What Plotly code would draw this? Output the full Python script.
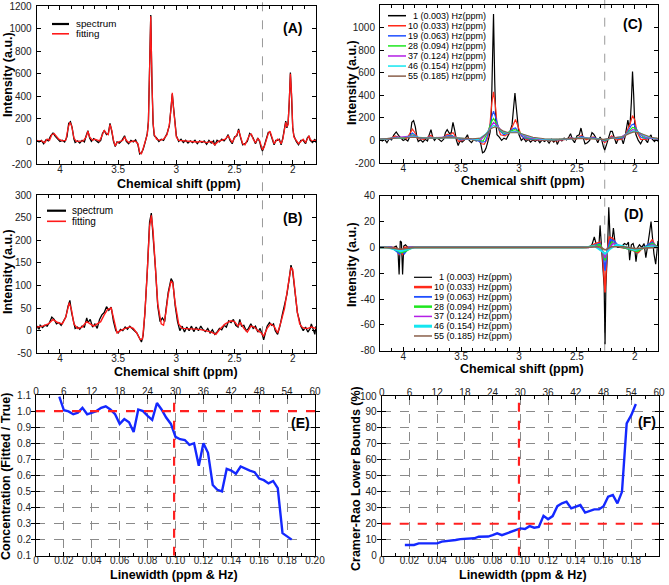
import plotly.graph_objects as go
import numpy as np

W, H = 669, 585
FONT = "Liberation Sans, Arial, Helvetica, sans-serif"

# ---------------- Panel A (spectrum / fitting, 1 Hz) ----------------
A_fit_ppm = [4.20, 4.16, 4.13, 4.11, 4.09, 4.07, 4.05, 4.03, 4.01, 3.98,
             3.95, 3.93, 3.915, 3.90, 3.88, 3.86, 3.83, 3.80, 3.775, 3.76,
             3.745, 3.72, 3.70, 3.68, 3.66, 3.635, 3.62, 3.60, 3.585, 3.57,
             3.555, 3.54, 3.525, 3.51, 3.49, 3.46, 3.445, 3.43, 3.41, 3.39,
             3.37, 3.35, 3.33, 3.315, 3.30, 3.285, 3.27, 3.25, 3.24, 3.23,
             3.22, 3.21, 3.20, 3.19, 3.17, 3.14, 3.11, 3.08, 3.06, 3.045,
             3.035, 3.025, 3.01, 3.00, 2.98, 2.94, 2.90, 2.86, 2.82, 2.78,
             2.74, 2.70, 2.67, 2.64, 2.60, 2.58, 2.555, 2.54, 2.52, 2.50,
             2.48, 2.465, 2.45, 2.43, 2.41, 2.39, 2.37, 2.355, 2.34, 2.32,
             2.30, 2.285, 2.27, 2.26, 2.245, 2.23, 2.21, 2.195, 2.18, 2.16,
             2.145, 2.13, 2.115, 2.10, 2.085, 2.07, 2.06, 2.05, 2.04, 2.03,
             2.02, 2.01, 2.00, 1.99, 1.97, 1.95, 1.93, 1.91, 1.89, 1.875,
             1.86, 1.85, 1.83, 1.81, 1.80]
A_fit = [5, 5, -10, 20, 10, 60, 70, 40, 20, 5,
         10, 120, 170, 140, 30, 0, 0, 5, 40, 90,
         40, 10, 20, 10, 5, 60, 100, 70, 60, 150,
         100, 10, -40, -10, 0, 10, 40, 10, -10, 0,
         5, 0, -20, -100, -110, -60, -10, 60, 170, 550,
         1110, 550, 170, 60, 20, 10, 20, 60, 150, 300,
         430, 300, 110, 40, 10, 5, 0, 0, -5, 0,
         -10, 0, -30, 0, 10, 20, 50, 20, -10, 30,
         60, 100, 50, -20, -30, 10, 60, 65, 20, -10,
         25, 10, -50, -75, -50, 0, 70, 90, 40, -20,
         0, 20, 10, -20, 20, 120, 170, 130, 150, 350,
         600, 420, 130, 40, 10, -20, 0, 20, -10, 20,
         50, 20, 0, 10, 0]

A_spec_ppm = [4.20, 4.18, 4.16, 4.14, 4.12, 4.10, 4.08, 4.06, 4.04, 4.02,
              4.00, 3.98, 3.96, 3.94, 3.925, 3.91, 3.895, 3.88, 3.87, 3.85,
              3.83, 3.81, 3.79, 3.775, 3.76, 3.745, 3.73, 3.71, 3.69, 3.67,
              3.65, 3.635, 3.62, 3.60, 3.585, 3.57, 3.555, 3.54, 3.525, 3.51,
              3.49, 3.47, 3.445, 3.43, 3.41, 3.39, 3.37, 3.35, 3.33, 3.315,
              3.30, 3.285, 3.27, 3.25, 3.24, 3.23, 3.22, 3.21, 3.20, 3.19,
              3.17, 3.15, 3.13, 3.11, 3.08, 3.06, 3.045, 3.035, 3.025, 3.01,
              3.00, 2.98, 2.96, 2.94, 2.92, 2.90, 2.88, 2.86, 2.84, 2.82,
              2.80, 2.78, 2.76, 2.74, 2.72, 2.70, 2.68, 2.67, 2.65, 2.63,
              2.61, 2.59, 2.57, 2.555, 2.54, 2.52, 2.50, 2.48, 2.465, 2.45,
              2.43, 2.41, 2.39, 2.37, 2.355, 2.34, 2.32, 2.30, 2.285, 2.27,
              2.26, 2.245, 2.23, 2.21, 2.195, 2.18, 2.16, 2.145, 2.13, 2.115,
              2.10, 2.085, 2.07, 2.06, 2.05, 2.04, 2.03, 2.02, 2.01, 2.00,
              1.99, 1.97, 1.95, 1.93, 1.91, 1.89, 1.875, 1.86, 1.85, 1.83,
              1.81, 1.80]
A_spec = [10, -5, 10, -20, 15, 5, 50, 75, 45, 25,
          0, 10, -5, 40, 160, 175, 120, 20, -10, 5,
          -15, 10, -5, 50, 95, 30, 0, 25, 5, -10,
          10, 70, 95, 60, 70, 160, 90, 0, -45, -5,
          -15, 5, 50, 0, -20, 10, -5, 15, -30, -110,
          -100, -70, -15, 70, 180, 560, 1120, 540, 160, 50,
          30, 0, 20, 10, 70, 140, 310, 420, 310, 100,
          50, 0, 20, -10, 10, -15, 5, -10, 10, -20,
          5, -10, 5, -25, 10, -15, 5, -35, 10, -5,
          20, 5, 30, 60, 10, -20, 40, 50, 110, 40,
          -30, -20, 0, 70, 55, 30, -20, 30, 0, -60,
          -85, -40, 10, 80, 80, 30, -30, 10, 10, 20,
          -30, 30, 110, 180, 120, 160, 340, 610, 400, 120,
          50, 0, -30, 10, 10, -20, 30, 50, 10, -10,
          20, -10]

# ---------------- Panel B (spectrum / fitting, broadened) ----------------
B_fit_ppm = [4.20, 4.15, 4.10, 4.06, 4.02, 3.98, 3.95, 3.92, 3.90, 3.88,
             3.85, 3.81, 3.77, 3.74, 3.71, 3.68, 3.65, 3.62, 3.59, 3.56,
             3.53, 3.51, 3.48, 3.44, 3.40, 3.37, 3.34, 3.31, 3.29, 3.27,
             3.25, 3.23, 3.215, 3.20, 3.18, 3.16, 3.13, 3.11, 3.09, 3.07,
             3.045, 3.03, 3.01, 2.98, 2.95, 2.90, 2.85, 2.80, 2.75, 2.70,
             2.66, 2.62, 2.58, 2.53, 2.50, 2.47, 2.45, 2.42, 2.39, 2.36,
             2.33, 2.30, 2.27, 2.25, 2.22, 2.19, 2.16, 2.13, 2.10, 2.07,
             2.04, 2.015, 2.00, 1.98, 1.96, 1.94, 1.92, 1.90, 1.87, 1.84,
             1.82, 1.80]
B_fit = [8, 10, 15, 25, 18, 15, 30, 62, 45, 15,
         5, 8, 20, 15, 10, 15, 20, 35, 47, 50,
         15, -5, 0, 5, 8, 5, -5, -20, -18, 40,
         130, 230, 255, 220, 140, 60, 15, 12, 40, 80,
         110, 105, 60, 15, 5, 4, 4, 3, 0, -3,
         -8, 5, 15, 22, 20, 10, 18, 5, -3, 10,
         8, 0, -5, -12, 5, 15, 10, -5, 20, 50,
         100, 140, 135, 90, 40, 15, 8, 5, 5, 8,
         6, 5]

B_spec_ppm = [4.20, 4.19, 4.18, 4.17, 4.15, 4.13, 4.11, 4.09, 4.07, 4.05,
              4.03, 4.01, 3.99, 3.97, 3.95, 3.93, 3.915, 3.90, 3.88, 3.87,
              3.85, 3.83, 3.81, 3.79, 3.77, 3.76, 3.74, 3.72, 3.70, 3.68,
              3.66, 3.64, 3.62, 3.60, 3.58, 3.56, 3.54, 3.52, 3.50, 3.48,
              3.46, 3.44, 3.42, 3.40, 3.38, 3.36, 3.34, 3.32, 3.30, 3.285,
              3.27, 3.25, 3.23, 3.215, 3.20, 3.18, 3.16, 3.14, 3.12, 3.10,
              3.09, 3.07, 3.045, 3.03, 3.01, 2.99, 2.97, 2.95, 2.93, 2.91,
              2.89, 2.87, 2.85, 2.83, 2.81, 2.79, 2.77, 2.75, 2.73, 2.71,
              2.69, 2.67, 2.65, 2.63, 2.61, 2.59, 2.57, 2.55, 2.53, 2.51,
              2.49, 2.47, 2.455, 2.44, 2.42, 2.40, 2.38, 2.36, 2.34, 2.32,
              2.30, 2.28, 2.26, 2.25, 2.235, 2.22, 2.20, 2.18, 2.165, 2.15,
              2.13, 2.11, 2.09, 2.07, 2.05, 2.03, 2.015, 2.00, 1.98, 1.96,
              1.94, 1.93, 1.91, 1.89, 1.87, 1.85, 1.84, 1.82, 1.81, 1.80]
B_spec = [5, 10, 3, 12, 7, 12, 10, 18, 30, 25,
          15, 18, 12, 20, 30, 55, 67, 40, 12, 5,
          8, 3, 10, 8, 28, 18, 25, 8, 15, 5,
          25, 35, 40, 53, 45, 52, 20, 0, -5, 3,
          0, 8, 3, 10, 5, 0, -5, -15, -25, -10,
          40, 130, 240, 260, 215, 140, 55, 20, 28, 20,
          45, 85, 115, 108, 55, 20, 0, 10, -3, 8,
          0, 10, -2, 8, 0, 10, 2, -2, 5, -5,
          2, -8, -3, 5, 2, 12, 8, 22, 18, 25,
          12, 8, 25, 10, 12, 0, 5, 15, 5, 10,
          -3, 5, -10, -20, -5, 10, 18, 12, 15, 0,
          -8, 10, 35, 60, 80, 115, 145, 130, 85, 40,
          20, 10, 0, 8, -3, 5, 15, 0, -8, 10]

# ---------------- Panel C (spectra at different linewidths) ----------------
C_labels = ["\u20071 (0.003) Hz(ppm)", "10 (0.033) Hz(ppm)", "19 (0.063) Hz(ppm)",
            "28 (0.094) Hz(ppm)", "37 (0.124) Hz(ppm)", "46 (0.154) Hz(ppm)",
            "55 (0.185) Hz(ppm)"]
C10_ppm = [4.20, 4.12, 4.07, 4.02, 3.97, 3.94, 3.92, 3.90, 3.87, 3.82,
           3.77, 3.76, 3.74, 3.70, 3.66, 3.62, 3.60, 3.57, 3.54, 3.52,
           3.48, 3.44, 3.40, 3.35, 3.32, 3.30, 3.27, 3.25, 3.235, 3.22,
           3.205, 3.19, 3.16, 3.12, 3.08, 3.05, 3.03, 3.01, 2.98, 2.94,
           2.85, 2.75, 2.67, 2.60, 2.55, 2.51, 2.46, 2.42, 2.36, 2.32,
           2.29, 2.26, 2.23, 2.20, 2.16, 2.12, 2.09, 2.06, 2.04, 2.02,
           2.00, 1.98, 1.95, 1.90, 1.86, 1.82, 1.80]
C10 = [10, 10, 40, 20, 15, 60, 100, 70, 15, 10,
       35, 45, 25, 15, 20, 55, 45, 70, 20, -10,
       5, 20, 5, 0, -30, -35, 20, 150, 330, 430,
       320, 150, 50, 40, 70, 150, 185, 130, 40, 10,
       5, 0, -5, 10, 25, 10, 45, 5, 30, 5,
       15, -20, 10, 40, 5, 10, 30, 100, 150, 220,
       180, 70, 10, 10, 25, 10, 5]
C19_ppm = [4.20, 4.10, 4.06, 4.00, 3.95, 3.92, 3.89, 3.85, 3.77, 3.73,
           3.66, 3.62, 3.58, 3.54, 3.50, 3.44, 3.38, 3.32, 3.29, 3.26,
           3.235, 3.22, 3.20, 3.17, 3.13, 3.09, 3.05, 3.03, 3.00, 2.96,
           2.90, 2.80, 2.70, 2.60, 2.55, 2.50, 2.46, 2.40, 2.36, 2.30,
           2.26, 2.20, 2.15, 2.10, 2.06, 2.03, 2.01, 1.98, 1.95, 1.90,
           1.85, 1.80]
C19 = [10, 15, 30, 20, 35, 65, 40, 15, 30, 20,
       25, 40, 45, 20, 5, 15, 5, -15, -10, 80,
       210, 260, 200, 90, 50, 70, 105, 110, 70, 25,
       10, 5, 5, 10, 20, 15, 35, 15, 25, 10,
       -5, 30, 15, 25, 80, 135, 145, 90, 30, 15,
       20, 10]
C28_ppm = [4.20, 4.06, 3.99, 3.92, 3.86, 3.77, 3.70, 3.62, 3.58, 3.52,
           3.44, 3.36, 3.31, 3.27, 3.24, 3.22, 3.20, 3.16, 3.12, 3.08,
           3.04, 3.02, 2.98, 2.93, 2.85, 2.70, 2.58, 2.52, 2.46, 2.38,
           2.30, 2.26, 2.20, 2.12, 2.06, 2.02, 2.00, 1.96, 1.92, 1.86,
           1.80]
C28 = [10, 25, 20, 50, 20, 25, 20, 35, 38, 15,
       12, 5, -5, 70, 160, 195, 160, 85, 60, 75,
       95, 90, 55, 20, 10, 5, 12, 15, 28, 20,
       12, 0, 25, 25, 70, 115, 110, 60, 25, 20,
       10]
C37_ppm = [4.20, 4.06, 3.92, 3.86, 3.77, 3.62, 3.57, 3.50, 3.40, 3.33,
           3.28, 3.24, 3.22, 3.19, 3.15, 3.11, 3.05, 3.03, 2.98, 2.92,
           2.82, 2.65, 2.50, 2.46, 2.35, 2.27, 2.20, 2.12, 2.05, 2.02,
           1.99, 1.95, 1.90, 1.80]
C37 = [10, 22, 40, 22, 22, 30, 32, 15, 10, 5,
       60, 135, 160, 135, 85, 65, 80, 80, 55, 25,
       10, 8, 18, 22, 18, 5, 22, 30, 70, 95,
       90, 55, 25, 12]
C46_ppm = [4.20, 4.05, 3.92, 3.80, 3.62, 3.55, 3.45, 3.35, 3.29, 3.24,
           3.22, 3.19, 3.15, 3.10, 3.05, 3.02, 2.97, 2.90, 2.80, 2.65,
           2.48, 2.35, 2.27, 2.18, 2.10, 2.05, 2.01, 1.97, 1.92, 1.86,
           1.80]
C46 = [10, 20, 32, 22, 27, 25, 15, 10, 55, 115,
       135, 120, 85, 65, 75, 73, 55, 28, 12, 10,
       20, 17, 8, 22, 35, 65, 85, 75, 45, 25,
       15]
C55_ppm = [4.20, 4.05, 3.92, 3.80, 3.62, 3.50, 3.40, 3.33, 3.28, 3.24,
           3.21, 3.18, 3.14, 3.09, 3.04, 3.01, 2.95, 2.88, 2.78, 2.65,
           2.50, 2.35, 2.27, 2.18, 2.10, 2.05, 2.01, 1.97, 1.92, 1.86,
           1.80]
C55 = [12, 18, 28, 20, 25, 20, 15, 20, 60, 105,
       120, 110, 85, 68, 70, 68, 50, 28, 15, 12,
       18, 16, 10, 22, 35, 60, 75, 70, 48, 28,
       18]

# ---------------- Panel D (residuals at different linewidths) ----------------
D1_ppm = [4.20, 4.08, 4.06, 4.045, 4.035, 4.025, 4.015, 4.005, 3.995, 3.98,
          3.96, 2.40, 2.37, 2.35, 2.335, 2.31, 2.30, 2.285, 2.265, 2.257,
          2.25, 2.235, 2.225, 2.21, 2.20, 2.185, 2.17, 2.15, 2.12, 2.09,
          2.07, 2.055, 2.045, 2.03, 2.015, 2.00, 1.99, 1.975, 1.96, 1.94,
          1.92, 1.905, 1.89, 1.875, 1.86, 1.845, 1.835, 1.82, 1.81, 1.80]
D1 = [0, 0, 1, -2, -21, 5, 4, -21, 1, 2,
      0, 0, 2, 8, 3, 1, 17, 0, -30, -75,
      -30, 0, 31, 0, 2, 15, 3, 0, 0, 3,
      2, 4, -10, 2, 3, -2, -11, 0, 2, 0,
      3, -8, 0, 10, 20, 5, -5, -13, 0, 5]
D10_ppm = [4.20, 4.10, 4.05, 4.035, 4.02, 4.005, 3.99, 3.95, 2.40, 2.34,
           2.30, 2.28, 2.257, 2.24, 2.22, 2.19, 2.16, 2.12, 2.05, 2.00,
           1.97, 1.94, 1.90, 1.87, 1.85, 1.83, 1.80]
D10 = [0, 0, -1, -6, -1, -6, 0, 0, 0, 3,
       4, -3, -35, -3, 8, 7, 2, 0, -1, -3,
       -4, -1, 0, 3, 6, 2, 0]
D19_ppm = [4.20, 4.10, 4.03, 4.01, 3.99, 3.95, 2.40, 2.33, 2.30, 2.275,
           2.257, 2.24, 2.21, 2.18, 2.14, 2.10, 2.02, 1.98, 1.94, 1.88,
           1.85, 1.82, 1.80]
D19 = [0, 0, -5, -3, -5, 0, 0, 2, 3, -4,
       -18, -3, 6, 5, 1, 0, -2, -3, -1, 2,
       4, 1, 0]
D28_ppm = [4.20, 4.12, 4.06, 4.02, 3.98, 3.92, 2.42, 2.35, 2.30, 2.275,
           2.257, 2.235, 2.20, 2.16, 2.10, 2.02, 1.98, 1.94, 1.88, 1.85,
           1.80]
D28 = [0, 0, -2, -4, -3, 0, 0, 1, 2, -4,
       -10, -3, 4, 2, 0, -2, -3, -1, 1, 3,
       0]
D37_ppm = [4.20, 4.12, 4.02, 3.92, 2.42, 2.33, 2.28, 2.257, 2.23, 2.19,
           2.12, 2.00, 1.90, 1.85, 1.80]
D37 = [0, 0, -3, 0, 0, 1, -3, -8, -2, 3,
       1, -2, 0, 2, 0]
D46_ppm = [4.20, 4.14, 4.02, 3.90, 2.45, 2.35, 2.30, 2.257, 2.21, 2.16,
           2.10, 2.00, 1.90, 1.85, 1.80]
D46 = [0, 0, -3, 0, 0, 1, -2, -5, -1, 2,
       1, -2, 0, 1, 0]
D55_ppm = [4.20, 4.15, 4.02, 3.90, 2.45, 2.30, 2.257, 2.20, 2.10, 2.00,
           1.80]
D55 = [0, 0, -1.5, 0, 0, 0.5, -2, 0.5, 0.5, -1,
       0]

# ---------------- Panel E / F (vs linewidth) ----------------
E_lw = [0.0167, 0.0200, 0.0233, 0.0267, 0.0300, 0.0333, 0.0367, 0.0400, 0.0433, 0.0467,
        0.0500, 0.0533, 0.0567, 0.0600, 0.0633, 0.0667, 0.0700, 0.0733, 0.0767, 0.0800,
        0.0833, 0.0867, 0.0900, 0.0933, 0.0967, 0.1000, 0.1033, 0.1067, 0.1100, 0.1133,
        0.1167, 0.1200, 0.1233, 0.1267, 0.1300, 0.1333, 0.1367, 0.1400, 0.1433, 0.1467,
        0.1500, 0.1533, 0.1567, 0.1600, 0.1633, 0.1667, 0.1700, 0.1733, 0.1767, 0.1800,
        0.1833]
E_conc = [1.09, 1.005, 0.998, 0.98, 0.99, 1.02, 0.98, 0.99, 1.00, 1.02,
          1.03, 1.01, 0.98, 0.92, 0.95, 0.93, 0.87, 1.01, 1.00, 0.97,
          0.945, 1.05, 1.01, 0.96, 0.92, 0.84, 0.825, 0.82, 0.79, 0.80,
          0.66, 0.80, 0.74, 0.54, 0.51, 0.50, 0.64, 0.63, 0.61, 0.655,
          0.64, 0.63, 0.62, 0.58, 0.57, 0.55, 0.565, 0.52, 0.24, 0.22,
          0.20]
F_lw = E_lw
F_crlb = [6.7, 6.7, 6.7, 7.7, 7.7, 7.7, 7.7, 7.7, 8.8, 9.0,
          9.5, 9.8, 10.4, 10.6, 10.7, 10.9, 11.9, 11.9, 12.0, 12.9,
          14.0, 12.9, 14.0, 15.0, 16.0, 17.1, 16.7, 18.5, 17.5, 18.0,
          25.0, 22.8, 24.8, 31.0, 32.8, 33.8, 29.6, 30.7, 31.7, 27.0,
          28.2, 29.0, 29.0, 31.0, 37.0, 38.0, 32.8, 40.0, 82.9, 88.0,
          95.0]

hz_ticks = [0, 6, 12, 18, 24, 30, 36, 42, 48, 54, 60]
lw_ticks = [0, 0.02, 0.04, 0.06, 0.08, 0.10, 0.12, 0.14, 0.16, 0.18, 0.20]
ppm_ticks = [4, 3.5, 3, 2.5, 2]

COLORS = ["black", "#ff2a1a", "#1f4fff", "#1ee61e", "#b41ee6", "#14e6f0", "#8a5f4a"]

fig = go.Figure()


def add(x, y, xa, ya, color, width=1.3):
    fig.add_trace(go.Scatter(x=x, y=y, xaxis=xa, yaxis=ya, mode="lines",
                             line=dict(color=color, width=width),
                             showlegend=False, hoverinfo="skip"))


add(A_spec_ppm, A_spec, "x", "y", "black", 1.3)
add(A_fit_ppm, A_fit, "x", "y", "#ff1a1a", 1.3)
add(B_spec_ppm, B_spec, "x2", "y2", "black", 1.3)
add(B_fit_ppm, B_fit, "x2", "y2", "#ff1a1a", 1.4)

C_series = [(A_spec_ppm, A_spec), (C10_ppm, C10), (C19_ppm, C19), (C28_ppm, C28),
            (C37_ppm, C37), (C46_ppm, C46), (C55_ppm, C55)]
for (xs, ys), c in zip(C_series, COLORS):
    add(xs, ys, "x3", "y3", c, 1.2)

D_series = [(D1_ppm, D1), (D10_ppm, D10), (D19_ppm, D19), (D28_ppm, D28),
            (D37_ppm, D37), (D46_ppm, D46), (D55_ppm, D55)]
D_widths = [1.2, 1.6, 1.6, 1.8, 1.5, 1.8, 1.6]
for (xs, ys), c, w in zip(D_series, COLORS, D_widths):
    add(xs, ys, "x4", "y4", c, w)

add(E_lw, E_conc, "x5", "y5", "#1428ff", 2.4)
add(F_lw, F_crlb, "x6", "y6", "#1428ff", 2.4)
# helper traces so the top (Hz) axes are drawn
fig.add_trace(go.Scatter(x=[0, 60], y=[0.5, 0.5], xaxis="x7", yaxis="y5", mode="lines",
                         line=dict(width=0), opacity=0, showlegend=False, hoverinfo="skip"))
fig.add_trace(go.Scatter(x=[0, 60], y=[50, 50], xaxis="x8", yaxis="y6", mode="lines",
                         line=dict(width=0), opacity=0, showlegend=False, hoverinfo="skip"))


def px(x):
    return x / W


def py(y):
    return 1 - y / H


tickfont = dict(family=FONT, size=10, color="#222")
minor_ppm = [round(v, 2) for v in np.arange(1.8, 4.21, 0.1)]


def spec_x(dom, anchor):
    return dict(domain=dom, anchor=anchor, range=[4.2, 1.8], tickmode="array",
                tickvals=ppm_ticks, ticktext=["4", "3.5", "3", "2.5", "2"],
                ticks="inside", ticklen=4, tickcolor="black", showline=True,
                linecolor="black", linewidth=1, mirror="allticks", showgrid=False,
                zeroline=False, tickfont=tickfont, automargin=False, ticklabelstandoff=-4,
                minor=dict(tickmode="array", tickvals=minor_ppm, ticks="inside",
                           ticklen=3, tickcolor="black", showgrid=False))


def lin_y(dom, anchor, rng, vals, fmt=str, grid=False):
    d = dict(domain=dom, anchor=anchor, range=rng, tickmode="array", tickvals=vals,
             ticktext=[fmt(v) for v in vals], ticks="inside", ticklen=4,
             tickcolor="black", showline=True, linecolor="black", linewidth=1,
             mirror="allticks", zeroline=False, tickfont=tickfont, showgrid=grid,
             automargin=False, ticklabelstandoff=2)
    if grid:
        d.update(gridcolor="#8a8a8a", griddash="dash", gridwidth=0.8)
    return d


def lw_x(dom, anchor):
    return dict(domain=dom, anchor=anchor, range=[0, 0.2], tickmode="array",
                tickvals=lw_ticks,
                ticktext=["0" if v == 0 else f"{v:.2f}" for v in lw_ticks],
                ticks="inside", ticklen=4, tickcolor="black", showline=True,
                linecolor="black", linewidth=1, showgrid=True, gridcolor="#8a8a8a",
                griddash="dash", gridwidth=0.8, zeroline=False, tickfont=tickfont,
                automargin=False, ticklabelstandoff=-5,
                minor=dict(dtick=0.01, tick0=0, ticks="inside", ticklen=3,
                           tickcolor="black", showgrid=False))


def hz_x(over, anchor):
    return dict(overlaying=over, anchor=anchor, side="top", range=[0, 60],
                tickmode="array", tickvals=hz_ticks, ticktext=[str(v) for v in hz_ticks],
                ticks="inside", ticklen=4, tickcolor="black", showline=True,
                linecolor="black", linewidth=1, showgrid=False, zeroline=False,
                tickfont=tickfont, automargin=False, ticklabelstandoff=-5,
                minor=dict(dtick=3, tick0=0, ticks="inside", ticklen=3,
                           tickcolor="black", showgrid=False))


xA = [px(36.7), px(316)]
xC = [px(380), px(658)]

layout = dict(
    width=W, height=H, margin=dict(l=0, r=0, t=0, b=0, autoexpand=False),
    paper_bgcolor="white", plot_bgcolor="white", showlegend=False,
    xaxis=spec_x(xA, "y"),
    yaxis=lin_y([py(164), py(6)], "x", [-200, 1200], list(range(-200, 1201, 200))),
    xaxis2=spec_x(xA, "y2"),
    yaxis2=lin_y([py(353.3), py(195)], "x2", [-50, 300], list(range(-50, 301, 50))),
    xaxis3=spec_x(xC, "y3"),
    yaxis3=lin_y([py(163), py(5)], "x3", [-200, 1200], list(range(-200, 1201, 200))),
    xaxis4=spec_x(xC, "y4"),
    yaxis4=lin_y([py(350.7), py(195.7)], "x4", [-80, 40], list(range(-80, 41, 20))),
    xaxis5=lw_x([px(36), px(315)], "y5"),
    yaxis5=lin_y([py(555.7), py(395)], "x5", [0.1, 1.1],
                 [0.1, 0.2, 0.3, 0.4, 0.5, 0.6, 0.7, 0.8, 0.9, 1.0, 1.1],
                 fmt=lambda v: f"{v:.1f}", grid=True),
    xaxis7=hz_x("x5", "y5"),
    xaxis6=lw_x([px(381.7), px(659)], "y6"),
    yaxis6=lin_y([py(555.7), py(396)], "x6", [0, 100], list(range(0, 101, 10)), grid=True),
    xaxis8=hz_x("x6", "y6"),
)
fig.update_layout(**layout)

# dashed reference lines (2.26 ppm) spanning both spectral panels per column
for xa, y0, y1 in [("x", py(353.3), 1.0), ("x3", py(350.7), 1.0)]:
    fig.add_shape(type="line", xref=xa, yref="paper", x0=2.26, x1=2.26, y0=y0, y1=y1,
                  line=dict(color="#9a9a9a", width=1, dash="dash"), layer="below")

# red dashed guide lines in E and F
RED = "#ff2020"
fig.add_shape(type="line", xref="x5", yref="y5", x0=0, x1=0.2, y0=1.0, y1=1.0,
              line=dict(color=RED, width=2.2, dash="dash"))
fig.add_shape(type="line", xref="x5", yref="y5", x0=0.099, x1=0.099, y0=0.1, y1=1.1,
              line=dict(color=RED, width=2.2, dash="dash"))
fig.add_shape(type="line", xref="x6", yref="y6", x0=0, x1=0.2, y0=20, y1=20,
              line=dict(color=RED, width=2.2, dash="dash"))
fig.add_shape(type="line", xref="x6", yref="y6", x0=0.099, x1=0.099, y0=0, y1=100,
              line=dict(color=RED, width=2.2, dash="dash"))


def ann(text, x, y, size, bold=False, angle=0, xanchor="center"):
    fig.add_annotation(text=f"<b>{text}</b>" if bold else text, x=px(x), y=py(y),
                       xref="paper", yref="paper", showarrow=False, textangle=angle,
                       font=dict(family=FONT, size=size, color="black"),
                       xanchor=xanchor, yanchor="middle")


# panel letters
for t, x, y in [("(A)", 292, 28), ("(B)", 292, 218), ("(C)", 632, 24),
                ("(D)", 633, 214), ("(E)", 300, 423), ("(F)", 647, 422)]:
    ann(t, x, y, 14, bold=True)

# axis titles
for x, y in [(179, 183.5), (176, 371.5), (523, 181), (522, 368.5)]:
    ann("Chemical shift (ppm)", x, y, 12.5, bold=True)
for x, y in [(174, 574.5), (523, 575)]:
    ann("Linewidth (ppm &amp; Hz)", x, y, 12.5, bold=True)
for x, y in [(8, 75), (8, 272), (352, 83), (352, 265)]:
    ann("Intensity (a.u.)", x, y, 12.5, bold=True, angle=-90)
ann("Concentration (Fitted / True)", 6, 477, 12.5, bold=True, angle=-90)
ann("Cramer-Rao Lower Bounds (%)", 356, 479, 12.5, bold=True, angle=-90)


def legend(entries, lx0, lx1, tx, y0, dy, widths, size):
    for i, (label, color) in enumerate(entries):
        y = y0 + dy * i
        fig.add_shape(type="line", xref="paper", yref="paper", x0=px(lx0), x1=px(lx1),
                      y0=py(y), y1=py(y), line=dict(color=color, width=widths[i]))
        ann(label, tx, y, size, xanchor="left")


legend([("spectrum", "black"), ("fitting", "#ff1a1a")], 52, 69, 74, 24, 9.8, [2.2, 1.6], 9.8)
legend([("spectrum", "black"), ("fitting", "#ff1a1a")], 47, 66, 70, 210.7, 10.6, [2.2, 1.6], 10)
legend(list(zip(C_labels, COLORS)), 388, 406, 406, 15.7, 10.07, [1.5] * 7, 9)
legend(list(zip(C_labels, COLORS)), 414, 432, 432, 277.3, 9.78, [1.2, 2.5, 1.8, 2.5, 1.5, 3, 1.5], 9)

fig.write_html("out.html", config={"displayModeBar": False})

# remove the default page margin so the figure sits at the window's top-left corner
with open("out.html", "r", encoding="utf-8") as fh:
    html = fh.read()
html = html.replace("<head>", "<head><style>html,body{margin:0;padding:0;overflow:hidden;}</style>", 1)
with open("out.html", "w", encoding="utf-8") as fh:
    fh.write(html)
